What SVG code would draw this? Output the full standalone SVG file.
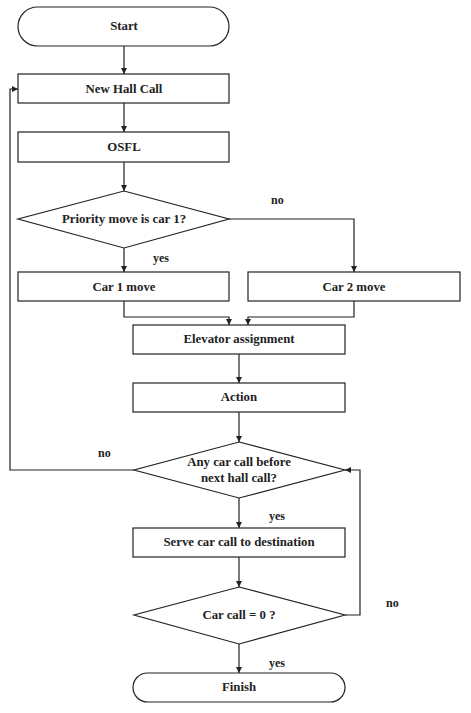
<svg xmlns="http://www.w3.org/2000/svg" width="471" height="713" viewBox="0 0 471 713">
<style>
.s{fill:#fff;stroke:#222;stroke-width:1.2}
.t{font-family:"Liberation Serif","Times New Roman",serif;font-weight:bold;font-size:12.8px;fill:#222;text-anchor:middle;dominant-baseline:central}
.l{font-family:"Liberation Serif","Times New Roman",serif;font-weight:bold;font-size:12px;fill:#222;text-anchor:start;dominant-baseline:central}
.c{fill:none;stroke:#222;stroke-width:1.2;marker-end:url(#a)}
</style>
<defs>
<marker id="a" viewBox="0 0 8 8" refX="8" refY="4" markerWidth="6" markerHeight="6" markerUnits="userSpaceOnUse" orient="auto">
<path d="M0,0L8,4L0,8z" fill="#222"/>
</marker>
</defs>
<rect width="471" height="713" fill="#fff"/>
<g id="connectors">
<path class="c" d="M124,46V74"/>
<path class="c" d="M124,103V132"/>
<path class="c" d="M124,162V191"/>
<path class="c" d="M124,248V272"/>
<path class="c" d="M229,219H354V272"/>
<path class="c" d="M124,301V317H229V325"/>
<path class="c" d="M354,301V317H248V325"/>
<path class="c" d="M239,354V383"/>
<path class="c" d="M239,412V442"/>
<path class="c" d="M134,470H10V89H18"/>
<path class="c" d="M239,498V528"/>
<path class="c" d="M239,557V587"/>
<path class="c" d="M345,615H360V470H345"/>
<path class="c" d="M239,644V673"/>
<text class="l" x="271" y="200">no</text>
<text class="l" x="153" y="258">yes</text>
<text class="l" x="98" y="453">no</text>
<text class="l" x="269" y="516">yes</text>
<text class="l" x="386" y="603">no</text>
<text class="l" x="269" y="663">yes</text>
</g>
<g id="start"><rect class="s" x="18" y="7" width="211" height="39" rx="19.5"/><text class="t" x="124" y="26">Start</text></g>
<g id="newhall"><rect class="s" x="18" y="74" width="211" height="29"/><text class="t" x="124" y="89">New Hall Call</text></g>
<g id="osfl"><rect class="s" x="18" y="132" width="211" height="30"/><text class="t" x="124" y="147">OSFL</text></g>
<g id="priority"><path class="s" d="M124,191L229,219L124,248L18,219Z"/><text class="t" x="124" y="219">Priority move is car 1?</text></g>
<g id="car1"><rect class="s" x="18" y="272" width="211" height="29"/><text class="t" x="124" y="287">Car 1 move</text></g>
<g id="car2"><rect class="s" x="248" y="272" width="212" height="29"/><text class="t" x="354" y="287">Car 2 move</text></g>
<g id="assign"><rect class="s" x="133" y="325" width="212" height="29"/><text class="t" x="239" y="339">Elevator assignment</text></g>
<g id="action"><rect class="s" x="133" y="383" width="212" height="29"/><text class="t" x="239" y="397">Action</text></g>
<g id="anycar"><path class="s" d="M239,442L345,470L239,498L134,470Z"/><text class="t" x="239" y="462">Any car call before</text><text class="t" x="239" y="478">next hall call?</text></g>
<g id="serve"><rect class="s" x="133" y="528" width="212" height="29"/><text class="t" x="239" y="542">Serve car call to destination</text></g>
<g id="carcall"><path class="s" d="M239,587L345,615L239,644L134,615Z"/><text class="t" x="239" y="615">Car call = 0 ?</text></g>
<g id="finish"><rect class="s" x="133" y="673" width="212" height="29" rx="14.5"/><text class="t" x="239" y="687">Finish</text></g>
</svg>
